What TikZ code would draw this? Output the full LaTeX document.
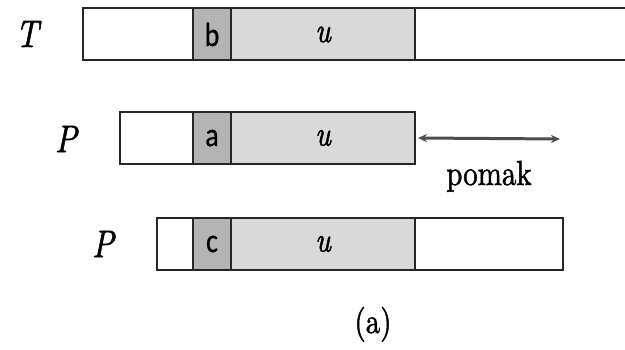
\documentclass[tikz,border=0pt]{standalone}
\usepackage{fontspec}
\newfontfamily\timesfont{lmroman10-regular.otf}[ItalicFont=lmroman10-italic.otf, FakeBold=1.6]
\newfontfamily\cellfont[FakeBold=0.8]{Carlito}
\usepackage{graphicx}
\usetikzlibrary{arrows.meta}
\definecolor{darkcell}{RGB}{180,180,180}
\definecolor{lightcell}{RGB}{217,217,217}
\newcommand\vst[1]{\scalebox{1}[1.2]{#1}}
\tikzset{
  box/.style={draw=black!85, line width=2pt, inner sep=0pt, minimum height=52pt, fill=white},
  dcell/.style={box, fill=darkcell, minimum width=38pt, font=\cellfont\fontsize{28}{30}\selectfont},
  lcell/.style={box, fill=lightcell, minimum width=184pt, font=\timesfont\itshape\fontsize{29}{32}\selectfont},
  rowlabel/.style={inner sep=0pt, font=\timesfont\itshape\fontsize{32}{36}\selectfont},
  plain/.style={inner sep=0pt, font=\timesfont\fontsize{29}{34}\selectfont},
  arr/.style={{Stealth[length=9pt,width=8pt]}-{Stealth[length=9pt,width=8pt]}, line width=3pt, draw=black!70}
}
\begin{document}
\begin{tikzpicture}[x=1pt,y=-1pt]
\clip (0,0) rectangle (625,350);
% T row
\node[box, minimum width=547pt] (tT) at (356.5,34.5) {};
\node[dcell] (tb) at (212,34.5) {\vst{b}};
\node[lcell] (tu) at (323,34.5) {\vst{u}};
\node[rowlabel] (lT) at (27,34) {\vst{T}};
% middle P row
\node[box, minimum width=295pt] (pP1) at (267.5,138) {};
\node[dcell] (pa) at (212,138) {\vst{a}};
\node[lcell] (pu1) at (323,138) {\vst{u}};
\node[rowlabel] (lP1) at (66,139) {\vst{P}};
% bottom P row
\node[box, minimum width=406pt] (pP2) at (360,244) {};
\node[dcell] (pc) at (212,244) {\vst{c}};
\node[lcell] (pu2) at (323,244) {\vst{u}};
\node[rowlabel] (lP2) at (103,244) {\vst{P}};
% shift arrow
\coordinate (shiftend) at (560,139);
\draw[arr] ([xshift=2pt]pP1.east) -- (shiftend);
\node[plain, anchor=base] (pomak) at (489,185) {\vst{pomak}};
\node[plain, anchor=base] (cap) at (373,333) {\vst{(a)}};
\end{tikzpicture}
\end{document}
